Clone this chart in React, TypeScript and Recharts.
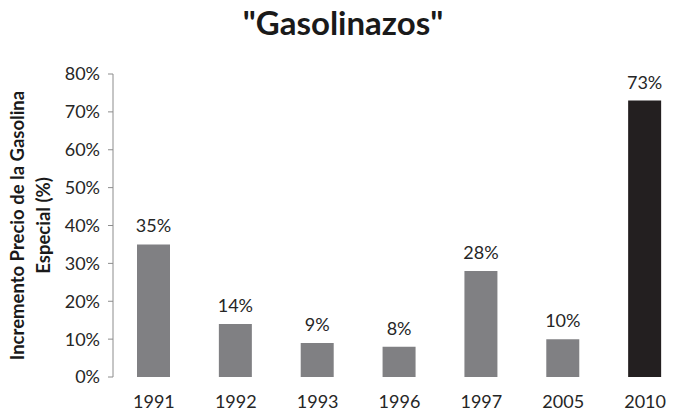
import React from "react";
import { BarChart, Bar, XAxis, YAxis, Cell, LabelList } from "recharts";

const years = ["1991", "1992", "1993", "1996", "1997", "2005", "2010"];
const increase = [35, 14, 9, 8, 28, 10, 73];
const yTicks = [0, 10, 20, 30, 40, 50, 60, 70, 80];
const boundaryTicks = [0, 1, 2, 3, 4, 5, 6, 7];
const highlightYear = "2010";

const data = years.map((year, i) => ({ year, value: increase[i] }));

const FONT = "Lato, 'Open Sans', sans-serif";
const GRAY = "#808083";
const BLACK = "#231f20";
const AXIS = "#8c8c8c";

const YLabel = (props: any) => {
  const vb = props.viewBox || {};
  const cy = vb.y + vb.height / 2;
  return (
    <g fontFamily={FONT} fontWeight={700} fontSize={18.5} fill="#1a1a1a">
      <text x={24} y={cy} textAnchor="middle" transform={`rotate(-90, 24, ${cy})`}>
        Incremento Precio de la Gasolina
      </text>
      <text x={50} y={cy} textAnchor="middle" transform={`rotate(-90, 50, ${cy})`}>
        Especial (%)
      </text>
    </g>
  );
};

export default function App() {
  return (
    <div style={{ position: "absolute", left: 0, top: 0, width: 686, height: 412, background: "#fff" }}>
      <div
        style={{
          position: "absolute",
          left: 0,
          top: 2,
          width: 686,
          textAlign: "center",
          fontFamily: FONT,
          fontWeight: 700,
          fontSize: 33,
          color: "#1a1a1a",
        }}
      >
        "Gasolinazos"
      </div>
      <BarChart
        width={686}
        height={412}
        data={data}
        margin={{ top: 74, right: 0, bottom: 5, left: 0 }}
      >
        <XAxis
          xAxisId="bounds"
          type="number"
          domain={[0, 7]}
          ticks={boundaryTicks}
          tick={false}
          tickSize={5}
          height={0}
          stroke={AXIS}
          allowDataOverflow
        />
        <XAxis
          xAxisId="cat"
          dataKey="year"
          axisLine={false}
          tickLine={false}
          height={30}
          tick={{ fontFamily: FONT, fontSize: 18, fill: "#262626" }}
          tickMargin={12}
        />
        <YAxis
          domain={[0, 80]}
          ticks={yTicks}
          width={113}
          stroke={AXIS}
          tickSize={5}
          tickFormatter={(v) => `${v}%`}
          tick={{ fontFamily: FONT, fontSize: 18, fill: "#262626" }}
          tickMargin={8}
          label={<YLabel />}
        />
        <Bar dataKey="value" xAxisId="cat" barSize={33} isAnimationActive={false}>
          {data.map((d) => (
            <Cell key={d.year} fill={d.year === highlightYear ? BLACK : GRAY} />
          ))}
          <LabelList
            dataKey="value"
            position="top"
            offset={12}
            formatter={(v: any) => `${v}%`}
            style={{ fontFamily: FONT, fontSize: 18, fill: "#262626" }}
          />
        </Bar>
      </BarChart>
    </div>
  );
}
